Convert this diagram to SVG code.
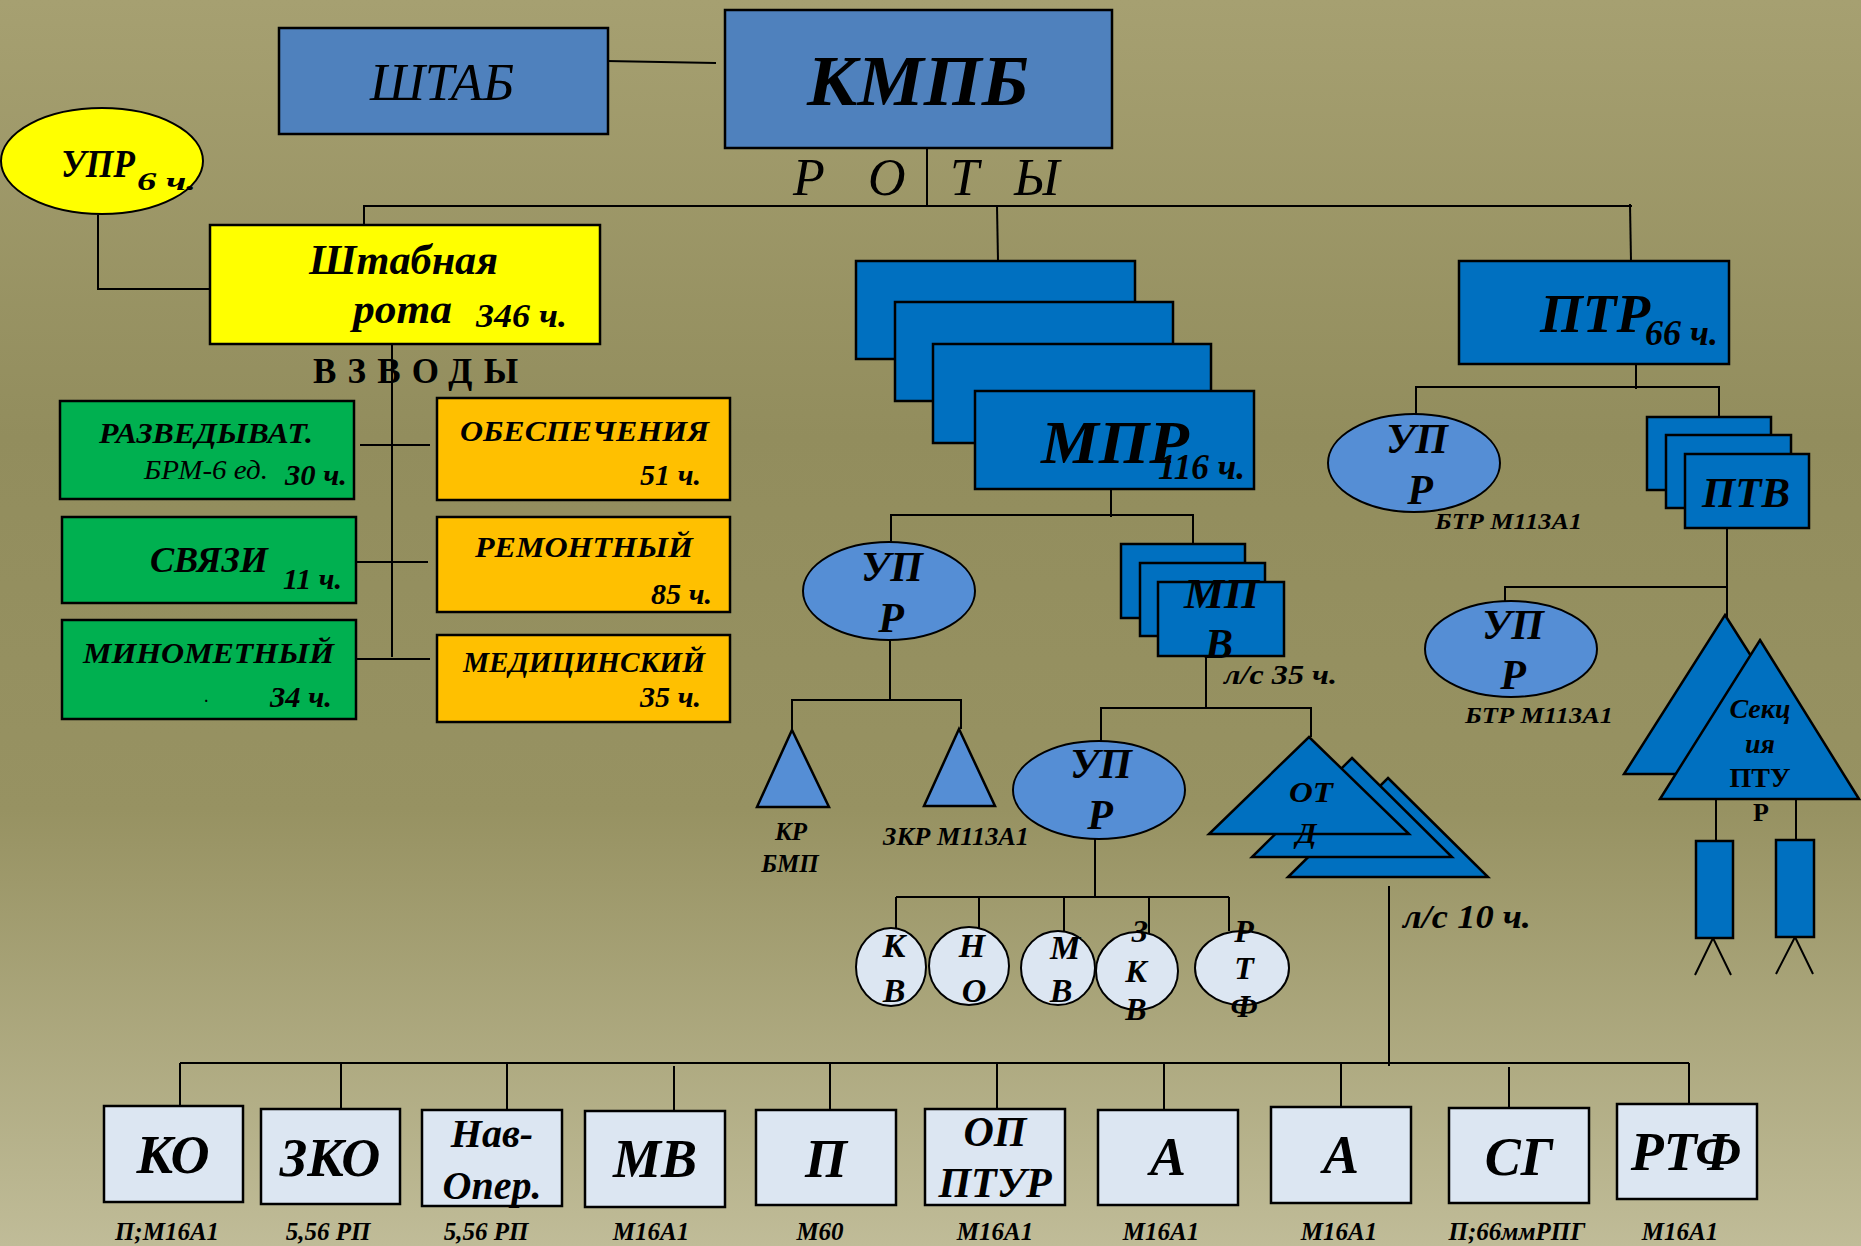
<svg xmlns="http://www.w3.org/2000/svg" width="1861" height="1246" viewBox="0 0 1861 1246">
<defs>
<linearGradient id="bg" x1="0" y1="0" x2="0" y2="1">
<stop offset="0" stop-color="#A6A071"/>
<stop offset="0.35" stop-color="#928D5D"/>
<stop offset="0.65" stop-color="#979262"/>
<stop offset="1" stop-color="#C0BC98"/>
</linearGradient>
<style>
text{font-family:"Liberation Serif","Times New Roman",serif;fill:#000}
.bi{font-weight:bold;font-style:italic}
.it{font-style:italic}
.b{font-weight:bold}
.m{text-anchor:middle}
.bx{stroke:#000;stroke-width:2.5}
.ln{stroke:#000;stroke-width:2;fill:none}
.c1{fill:#4F81BD}
.c2{fill:#0070C0}
.c3{fill:#558ED5}
.c4{fill:#DCE6F2}
.cy{fill:#FFFF00}
.cg{fill:#00B050}
.co{fill:#FFC000}
</style>
</defs>
<rect x="0" y="0" width="1861" height="1246" fill="url(#bg)"/>

<g id="connectors">
<line class="ln" x1="606" y1="61" x2="716" y2="63"/>
<line class="ln" x1="927" y1="148" x2="927" y2="205"/>
<polyline class="ln" points="364,225 364,206 1632,206"/>
<line class="ln" x1="997" y1="206" x2="998" y2="261"/>
<line class="ln" x1="1630" y1="204" x2="1631" y2="261"/>
<polyline class="ln" points="98,215 98,289 210,289"/>
<line class="ln" x1="392" y1="335" x2="392" y2="657"/>
<line class="ln" x1="360" y1="445" x2="430" y2="445"/>
<line class="ln" x1="356" y1="562" x2="428" y2="562"/>
<line class="ln" x1="354" y1="659" x2="430" y2="659"/>
<line class="ln" x1="1636" y1="364" x2="1636" y2="389"/>
<polyline class="ln" points="1416,414 1416,387 1719,387 1719,417"/>
<line class="ln" x1="1727" y1="528" x2="1727" y2="617"/>
<polyline class="ln" points="1505,601 1505,587 1727,587"/>
<line class="ln" x1="1111" y1="489" x2="1111" y2="517"/>
<polyline class="ln" points="891,543 891,515 1193,515 1193,544"/>
<line class="ln" x1="890" y1="641" x2="890" y2="700"/>
<polyline class="ln" points="792,730 792,700 961,700 961,729"/>
<line class="ln" x1="1206" y1="656" x2="1206" y2="708"/>
<polyline class="ln" points="1101,741 1101,708 1311,708 1311,737"/>
<line class="ln" x1="1095" y1="839" x2="1095" y2="897"/>
<line class="ln" x1="896" y1="897" x2="1229" y2="897"/>
<line class="ln" x1="896" y1="897" x2="896" y2="928"/>
<line class="ln" x1="979" y1="897" x2="979" y2="928"/>
<line class="ln" x1="1064" y1="897" x2="1064" y2="932"/>
<line class="ln" x1="1149" y1="897" x2="1149" y2="933"/>
<line class="ln" x1="1229" y1="897" x2="1229" y2="931"/>
<line class="ln" x1="1389" y1="886" x2="1389" y2="1066"/>
<line class="ln" x1="180" y1="1063" x2="1689" y2="1063"/>
<line class="ln" x1="180" y1="1063" x2="180" y2="1106"/>
<line class="ln" x1="341" y1="1063" x2="341" y2="1109"/>
<line class="ln" x1="507" y1="1063" x2="507" y2="1110"/>
<line class="ln" x1="674" y1="1066" x2="674" y2="1111"/>
<line class="ln" x1="830" y1="1063" x2="830" y2="1110"/>
<line class="ln" x1="997" y1="1063" x2="997" y2="1109"/>
<line class="ln" x1="1164" y1="1063" x2="1164" y2="1110"/>
<line class="ln" x1="1341" y1="1063" x2="1341" y2="1107"/>
<line class="ln" x1="1509" y1="1067" x2="1509" y2="1108"/>
<line class="ln" x1="1689" y1="1063" x2="1689" y2="1104"/>
<line class="ln" x1="1716" y1="799" x2="1716" y2="841"/>
<line class="ln" x1="1796" y1="799" x2="1796" y2="840"/>
<polyline class="ln" points="1695,975 1713,938 1731,975"/>
<polyline class="ln" points="1776,974 1795,937 1813,974"/>
</g>

<g id="shtab">
<rect class="bx c1" x="279" y="28" width="329" height="106"/>
<text class="it m" x="442" y="100" font-size="52" textLength="144" lengthAdjust="spacingAndGlyphs">ШТАБ</text>
</g>

<g id="kmpb">
<rect class="bx c1" x="725" y="10" width="387" height="138"/>
<text class="bi m" x="918" y="105" font-size="72" textLength="222" lengthAdjust="spacingAndGlyphs">КМПБ</text>
</g>

<g id="roty">
<text class="it" y="195" font-size="52" x="793 868 950 1014">РОТЫ</text>
</g>

<g id="upr-top">
<ellipse cx="102" cy="161" rx="101" ry="53" class="cy" stroke="#000" stroke-width="2"/>
<text class="bi" x="61" y="177" font-size="40" textLength="74" lengthAdjust="spacingAndGlyphs">УПР</text>
<text class="bi" x="137" y="190" font-size="26" textLength="59" lengthAdjust="spacingAndGlyphs">6 ч.</text>
</g>

<g id="shtabnaya-rota">
<rect class="bx cy" x="210" y="225" width="390" height="119"/>
<text class="bi" x="309" y="274" font-size="42" textLength="189" lengthAdjust="spacingAndGlyphs">Штабная</text>
<text class="bi" x="353" y="323" font-size="42" textLength="99" lengthAdjust="spacingAndGlyphs">рота</text>
<text class="bi" x="476" y="327" font-size="34" textLength="91" lengthAdjust="spacingAndGlyphs">346 ч.</text>
</g>

<g id="vzvody">
<text class="b" x="313" y="383" font-size="35" textLength="205" lengthAdjust="spacing">ВЗВОДЫ</text>
</g>

<g id="razved">
<rect class="bx cg" x="60" y="401" width="294" height="98"/>
<text class="bi" x="99" y="443" font-size="30" textLength="214" lengthAdjust="spacingAndGlyphs">РАЗВЕДЫВАТ.</text>
<text class="it" x="144" y="479" font-size="27" textLength="124" lengthAdjust="spacingAndGlyphs">БРМ-6 ед.</text>
<text class="bi" x="285" y="485" font-size="30" textLength="62" lengthAdjust="spacingAndGlyphs">30 ч.</text>
</g>

<g id="svyazi">
<rect class="bx cg" x="62" y="517" width="294" height="86"/>
<text class="bi" x="150" y="572" font-size="36" textLength="118" lengthAdjust="spacingAndGlyphs">СВЯЗИ</text>
<text class="bi" x="283" y="589" font-size="30" textLength="59" lengthAdjust="spacingAndGlyphs">11 ч.</text>
</g>

<g id="minometny">
<rect class="bx cg" x="62" y="620" width="294" height="99"/>
<text class="bi" x="83" y="663" font-size="30" textLength="251" lengthAdjust="spacingAndGlyphs">МИНОМЕТНЫЙ</text>
<text class="bi" x="205" y="702" font-size="14">.</text>
<text class="bi" x="270" y="707" font-size="30" textLength="62" lengthAdjust="spacingAndGlyphs">34 ч.</text>
</g>

<g id="obespecheniya">
<rect class="bx co" x="437" y="398" width="293" height="102"/>
<text class="bi" x="460" y="441" font-size="30" textLength="249" lengthAdjust="spacingAndGlyphs">ОБЕСПЕЧЕНИЯ</text>
<text class="bi" x="640" y="485" font-size="30" textLength="61" lengthAdjust="spacingAndGlyphs">51 ч.</text>
</g>

<g id="remontny">
<rect class="bx co" x="437" y="517" width="293" height="95"/>
<text class="bi" x="475" y="557" font-size="30" textLength="218" lengthAdjust="spacingAndGlyphs">РЕМОНТНЫЙ</text>
<text class="bi" x="651" y="604" font-size="30" textLength="61" lengthAdjust="spacingAndGlyphs">85 ч.</text>
</g>

<g id="medicinsky">
<rect class="bx co" x="437" y="635" width="293" height="87"/>
<text class="bi" x="463" y="672" font-size="30" textLength="242" lengthAdjust="spacingAndGlyphs">МЕДИЦИНСКИЙ</text>
<text class="bi" x="640" y="707" font-size="30" textLength="61" lengthAdjust="spacingAndGlyphs">35 ч.</text>
</g>

<g id="mpr">
<rect class="bx c2" x="856" y="261" width="279" height="98"/>
<rect class="bx c2" x="895" y="302" width="278" height="99"/>
<rect class="bx c2" x="933" y="344" width="278" height="99"/>
<rect class="bx c2" x="975" y="391" width="279" height="98"/>
<text class="bi" x="1041" y="463" font-size="62" textLength="148" lengthAdjust="spacingAndGlyphs">МПР</text>
<text class="bi" x="1158" y="479" font-size="36" textLength="87" lengthAdjust="spacingAndGlyphs">116 ч.</text>
</g>

<g id="ptr">
<rect class="bx c2" x="1459" y="261" width="270" height="103"/>
<text class="bi" x="1540" y="332" font-size="54" textLength="110" lengthAdjust="spacingAndGlyphs">ПТР</text>
<text class="bi" x="1645" y="345" font-size="36" textLength="73" lengthAdjust="spacingAndGlyphs">66 ч.</text>
</g>

<g id="upr-ptr">
<ellipse class="c3" stroke="#000" stroke-width="2" cx="1414" cy="463" rx="86" ry="49"/>
<text class="bi m" x="1417" y="453" font-size="42">УП</text>
<text class="bi m" x="1420" y="504" font-size="42">Р</text>
<text class="bi" x="1435" y="529" font-size="24" textLength="147" lengthAdjust="spacingAndGlyphs">БТР М113А1</text>
</g>

<g id="ptv">
<rect class="bx c2" x="1647" y="417" width="124" height="73"/>
<rect class="bx c2" x="1666" y="435" width="125" height="73"/>
<rect class="bx c2" x="1685" y="454" width="124" height="74"/>
<text class="bi" x="1702" y="507" font-size="42" textLength="88" lengthAdjust="spacingAndGlyphs">ПТВ</text>
</g>

<g id="upr-ptv">
<ellipse class="c3" stroke="#000" stroke-width="2" cx="1511" cy="649" rx="86" ry="48"/>
<text class="bi m" x="1513" y="639" font-size="42">УП</text>
<text class="bi m" x="1513" y="689" font-size="42">Р</text>
<text class="bi" x="1465" y="723" font-size="24" textLength="148" lengthAdjust="spacingAndGlyphs">БТР М113А1</text>
</g>

<g id="sekciya-ptur">
<polygon class="bx c2" points="1725,615 1826,774 1624,774"/>
<polygon class="bx c2" points="1760,640 1859,799 1660,799"/>
<text class="bi m" x="1760" y="718" font-size="28" textLength="61" lengthAdjust="spacingAndGlyphs">Секц</text>
<text class="bi m" x="1760" y="753" font-size="28">ия</text>
<text class="b m" x="1760" y="787" font-size="28" textLength="61" lengthAdjust="spacingAndGlyphs">ПТУ</text>
<text class="b m" x="1761" y="821" font-size="26">Р</text>
</g>

<g id="ptur-1">
<rect class="bx c2" x="1696" y="841" width="37" height="97"/>
</g>
<g id="ptur-2">
<rect class="bx c2" x="1776" y="840" width="38" height="97"/>
</g>

<g id="upr-mpr">
<ellipse class="c3" stroke="#000" stroke-width="2" cx="889" cy="591" rx="86" ry="49"/>
<text class="bi m" x="892" y="581" font-size="42">УП</text>
<text class="bi m" x="891" y="632" font-size="42">Р</text>
</g>

<g id="kr-bmp">
<polygon class="bx c3" points="792,730 829,807 757,807"/>
<text class="bi m" x="791" y="840" font-size="25">КР</text>
<text class="bi m" x="790" y="872" font-size="25">БМП</text>
</g>

<g id="zkr">
<polygon class="bx c3" points="959,729 995,806 924,806"/>
<text class="bi" x="883" y="845" font-size="25" textLength="146" lengthAdjust="spacingAndGlyphs">ЗКР М113А1</text>
</g>

<g id="mpv">
<rect class="bx c2" x="1121" y="544" width="124" height="74"/>
<rect class="bx c2" x="1140" y="563" width="125" height="73"/>
<rect class="bx c2" x="1158" y="582" width="126" height="74"/>
<text class="bi" x="1184" y="608" font-size="42" textLength="75" lengthAdjust="spacingAndGlyphs">МП</text>
<text class="bi" x="1205" y="658" font-size="42">В</text>
<text class="bi" x="1224" y="684" font-size="28" textLength="113" lengthAdjust="spacingAndGlyphs">л/с 35 ч.</text>
</g>

<g id="upr-mpv">
<ellipse class="c3" stroke="#000" stroke-width="2" cx="1099" cy="790" rx="86" ry="49"/>
<text class="bi m" x="1101" y="778" font-size="42">УП</text>
<text class="bi m" x="1100" y="829" font-size="42">Р</text>
</g>

<g id="otd">
<polygon class="bx c2" points="1388,778 1488,877 1288,877"/>
<polygon class="bx c2" points="1352,758 1452,857 1252,857"/>
<polygon class="bx c2" points="1309,737 1409,834 1209,834"/>
<text class="bi" x="1289" y="802" font-size="30" textLength="44" lengthAdjust="spacingAndGlyphs">ОТ</text>
<text class="bi" x="1296" y="843" font-size="30">Д</text>
<text class="bi" x="1403" y="928" font-size="34" textLength="128" lengthAdjust="spacingAndGlyphs">л/с 10 ч.</text>
</g>

<g id="kv">
<ellipse class="c4" stroke="#000" stroke-width="2" cx="891" cy="967" rx="35" ry="39"/>
<text class="bi m" x="894" y="957" font-size="34">К</text>
<text class="bi m" x="894" y="1002" font-size="34">В</text>
</g>
<g id="no">
<ellipse class="c4" stroke="#000" stroke-width="2" cx="969" cy="966" rx="40" ry="39"/>
<text class="bi m" x="972" y="957" font-size="34">Н</text>
<text class="bi m" x="974" y="1002" font-size="34">О</text>
</g>
<g id="mv">
<ellipse class="c4" stroke="#000" stroke-width="2" cx="1058" cy="968" rx="37" ry="37"/>
<text class="bi m" x="1065" y="959" font-size="34">М</text>
<text class="bi m" x="1061" y="1002" font-size="34">В</text>
</g>
<g id="zkv">
<ellipse class="c4" stroke="#000" stroke-width="2" cx="1137" cy="971" rx="41" ry="39"/>
<text class="bi m" x="1140" y="942" font-size="32">З</text>
<text class="bi m" x="1136" y="982" font-size="32">К</text>
<text class="bi m" x="1136" y="1020" font-size="32">В</text>
</g>
<g id="rtf">
<ellipse class="c4" stroke="#000" stroke-width="2" cx="1242" cy="968" rx="47" ry="37"/>
<text class="bi m" x="1244" y="942" font-size="32">Р</text>
<text class="bi m" x="1244" y="979" font-size="32">Т</text>
<text class="bi m" x="1244" y="1017" font-size="32">Ф</text>
</g>

<g id="ko">
<rect class="bx c4" x="104" y="1106" width="139" height="96"/>
<text class="bi m" x="173" y="1173" font-size="54">КО</text>
<text class="bi m" x="167" y="1240" font-size="25">П;М16А1</text>
</g>
<g id="zko">
<rect class="bx c4" x="261" y="1109" width="139" height="95"/>
<text class="bi m" x="330" y="1176" font-size="54">ЗКО</text>
<text class="bi m" x="328" y="1240" font-size="25">5,56 РП</text>
</g>
<g id="nav-oper">
<rect class="bx c4" x="422" y="1110" width="140" height="96"/>
<text class="bi m" x="492" y="1147" font-size="40">Нав-</text>
<text class="bi m" x="492" y="1199" font-size="40">Опер.</text>
<text class="bi m" x="486" y="1240" font-size="25">5,56 РП</text>
</g>
<g id="mv-box">
<rect class="bx c4" x="585" y="1111" width="140" height="96"/>
<text class="bi m" x="655" y="1177" font-size="54">МВ</text>
<text class="bi m" x="651" y="1240" font-size="25">М16А1</text>
</g>
<g id="p-box">
<rect class="bx c4" x="756" y="1110" width="140" height="95"/>
<text class="bi m" x="826" y="1177" font-size="54">П</text>
<text class="bi m" x="820" y="1240" font-size="25">М60</text>
</g>
<g id="op-ptur">
<rect class="bx c4" x="925" y="1109" width="140" height="96"/>
<text class="bi m" x="995" y="1146" font-size="42">ОП</text>
<text class="bi m" x="995" y="1197" font-size="42">ПТУР</text>
<text class="bi m" x="995" y="1240" font-size="25">М16А1</text>
</g>
<g id="a1">
<rect class="bx c4" x="1098" y="1110" width="140" height="95"/>
<text class="bi m" x="1168" y="1175" font-size="54">А</text>
<text class="bi m" x="1161" y="1240" font-size="25">М16А1</text>
</g>
<g id="a2">
<rect class="bx c4" x="1271" y="1107" width="140" height="96"/>
<text class="bi m" x="1341" y="1173" font-size="54">А</text>
<text class="bi m" x="1339" y="1240" font-size="25">М16А1</text>
</g>
<g id="sg">
<rect class="bx c4" x="1449" y="1108" width="140" height="95"/>
<text class="bi m" x="1519" y="1175" font-size="54">СГ</text>
<text class="bi m" x="1517" y="1240" font-size="25">П;66ммРПГ</text>
</g>
<g id="rtf-box">
<rect class="bx c4" x="1617" y="1104" width="140" height="95"/>
<text class="bi m" x="1686" y="1170" font-size="54">РТФ</text>
<text class="bi m" x="1680" y="1240" font-size="25">М16А1</text>
</g>
</svg>
